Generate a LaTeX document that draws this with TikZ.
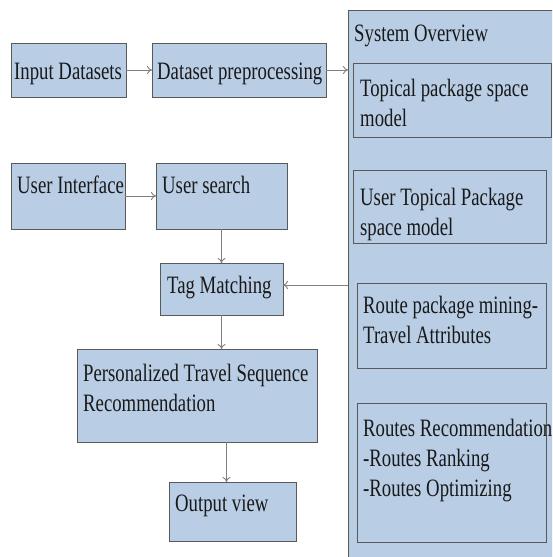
\documentclass[tikz,border=0pt]{standalone}
\usepackage{fontspec}
\setmainfont[FakeStretch=0.75]{Liberation Serif}
\usepackage{xcolor}
\usepackage{tikz}
\usetikzlibrary{arrows.meta, calc}

\definecolor{boxblue}{HTML}{B9CDE5}
\definecolor{edgegray}{HTML}{595959}
\definecolor{linkgray}{HTML}{7F7F7F}

\tikzset{
  blk/.style={draw=edgegray, fill=boxblue, line width=0.9pt, anchor=north west, inner sep=0pt, outer sep=0pt},
  lbl/.style={anchor=north west, inner sep=0pt, align=left, text=black!90, font=\fontsize{25}{30}\selectfont},
  link/.style={-{To[length=5pt, width=8pt]}, draw=linkgray, line width=0.9pt},
}

\begin{document}
\begin{tikzpicture}[x=1pt, y=-1pt]
        \useasboundingbox (0,0) rectangle (552,557);
        \fill[white] (0,0) rectangle (552,557);
        \clip (0,0) rectangle (552,557);

        % system overview panel
        \node[blk, minimum width=260, minimum height=600,
              label={[lbl, xshift=6pt, yshift=-10pt]north west:{\strut System Overview}}] at (348,10) (sys) {};
        \node[blk, minimum width=198, minimum height=74,
              label={[lbl, xshift=7pt, yshift=-12pt]north west:{\strut Topical package space\\model}}] at (353,63) (topi) {};
        \node[blk, minimum width=193, minimum height=73,
              label={[lbl, xshift=7pt, yshift=-14pt]north west:{\strut User Topical Package\\space model}}] at (353,170) (utop) {};
        \node[blk, minimum width=189, minimum height=85,
              label={[lbl, xshift=6pt, yshift=-9pt]north west:{\strut Route package mining-\\Travel Attributes}}] at (357,283) (mine) {};
        \node[blk, minimum width=189, minimum height=139,
              label={[lbl, xshift=6pt, yshift=-12pt]north west:{\strut Routes Recommendation\\-Routes Ranking\\-Routes Optimizing}}] at (357,403) (rrec) {};

        % main flow
        \node[blk, minimum width=115, minimum height=54,
              label={[lbl, xshift=3pt, yshift=-15pt]north west:{\strut Input Datasets}}] at (11,43) (inp) {};
        \node[blk, minimum width=174, minimum height=54,
              label={[lbl, xshift=5pt, yshift=-15pt]north west:{\strut Dataset preprocessing}}] at (152,43) (prep) {};
        \node[blk, minimum width=114, minimum height=66,
              label={[lbl, xshift=6pt, yshift=-9pt]north west:{\strut User Interface}}] at (11,163) (ui) {};
        \node[blk, minimum width=131, minimum height=66,
              label={[lbl, xshift=6pt, yshift=-9pt]north west:{\strut User search}}] at (156,163) (srch) {};
        \node[blk, minimum width=123, minimum height=52,
              label={[lbl, xshift=7pt, yshift=-9pt]north west:{\strut Tag Matching}}] at (160,263) (tagm) {};
        \node[blk, minimum width=240, minimum height=93,
              label={[lbl, xshift=6pt, yshift=-11pt]north west:{\strut Personalized Travel Sequence\\Recommendation}}] at (77,349) (pers) {};
        \node[blk, minimum width=127, minimum height=59,
              label={[lbl, xshift=6pt, yshift=-8pt]north west:{\strut Output view}}] at (169,482) (outv) {};

        \draw[link] (inp) -- (prep);
        \draw[link] (prep.east) -- (prep.east -| sys.west);
        \draw[link] (ui) -- (srch);
        \draw[link] (srch) -- (tagm);
        \draw[link] ([yshift=4pt]sys.west |- tagm.east) -- ([yshift=4pt]tagm.east);
        \draw[link] (tagm.south) -- (tagm.south |- pers.north);
        \draw[link] ([xshift=-6pt]outv.north |- pers.south) -- ([xshift=-6pt]outv.north);
    \end{tikzpicture}
\end{document}
